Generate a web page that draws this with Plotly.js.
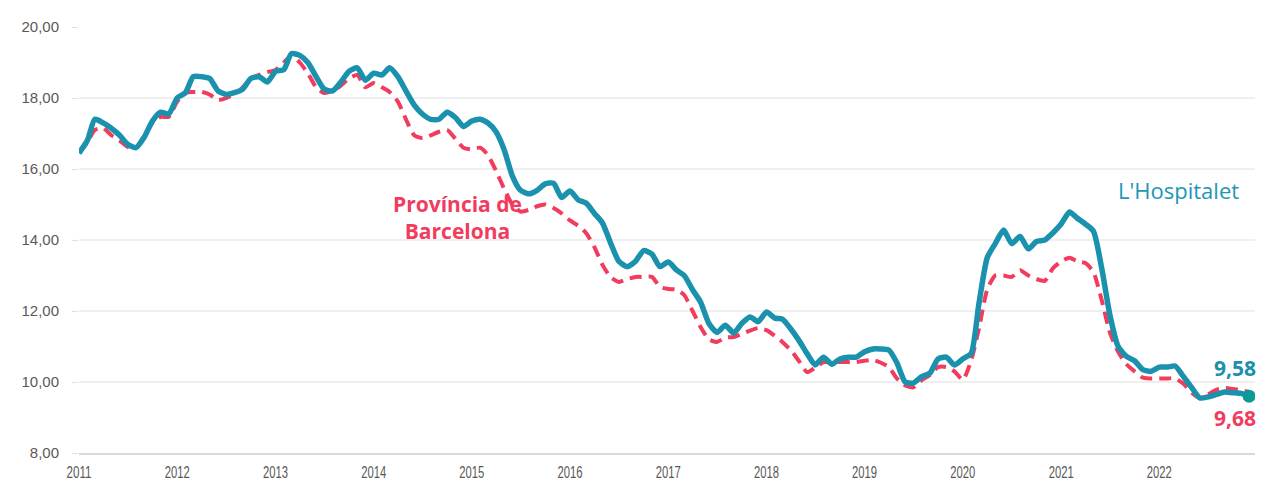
<!DOCTYPE html>
<html>
<head>
<meta charset="utf-8">
<script src="https://cdn.plot.ly/plotly-3.0.1.min.js"></script>
<style>
  html, body { margin: 0; padding: 0; background: #ffffff; }
  #chart { width: 1287px; height: 486px; }
</style>
</head>
<body>
<div id="chart"></div>
<script>
// Monthly series, Jan 2011 - Dec 2022
var startYear = 2011;
var endYear = 2022;
var yearLabels = ['2011','2012','2013','2014','2015','2016','2017','2018','2019','2020','2021','2022'];

var hospitalet = [
  16.45,16.8,17.4,17.3,17.15,16.95,16.7,16.6,16.9,17.35,17.6,17.55,
  18.0,18.15,18.6,18.6,18.55,18.2,18.1,18.15,18.25,18.55,18.6,18.45,
  18.75,18.8,19.25,19.2,19.0,18.6,18.25,18.2,18.45,18.75,18.85,18.5,
  18.7,18.65,18.85,18.6,18.2,17.8,17.55,17.4,17.4,17.6,17.45,17.2,
  17.35,17.4,17.3,17.05,16.55,15.8,15.4,15.3,15.4,15.58,15.6,15.2,
  15.38,15.13,15.04,14.75,14.48,13.9,13.4,13.25,13.4,13.7,13.6,13.25,
  13.38,13.15,13.0,12.6,12.25,11.65,11.4,11.6,11.38,11.65,11.83,11.7,
  11.97,11.8,11.77,11.5,11.18,10.8,10.48,10.7,10.5,10.65,10.7,10.7,
  10.85,10.93,10.93,10.9,10.54,10.0,9.97,10.15,10.25,10.65,10.7,10.48,
  10.65,10.8,12.2,13.5,13.9,14.28,13.9,14.1,13.75,13.96,14.0,14.2,
  14.45,14.79,14.62,14.45,14.25,13.2,11.9,11.0,10.72,10.6,10.35,10.3,
  10.42,10.42,10.45,10.15,9.85,9.55,9.58,9.65,9.72,9.7,9.68,9.6
];

var provincia = [
  16.45,16.75,17.1,17.15,16.95,16.8,16.62,16.6,16.95,17.3,17.47,17.47,
  17.9,18.15,18.17,18.17,18.1,17.94,18.0,18.1,18.3,18.55,18.65,18.73,
  18.79,19.0,19.2,19.0,18.7,18.3,18.14,18.2,18.35,18.55,18.65,18.3,
  18.42,18.3,18.17,17.9,17.4,16.95,16.87,16.95,17.05,17.1,16.85,16.6,
  16.55,16.6,16.4,15.95,15.45,15.0,14.8,14.85,14.95,15.0,14.9,14.75,
  14.55,14.4,14.2,13.8,13.3,12.95,12.82,12.9,12.96,12.96,12.96,12.68,
  12.62,12.6,12.45,12.0,11.55,11.2,11.13,11.25,11.27,11.35,11.45,11.52,
  11.46,11.3,11.13,10.9,10.6,10.28,10.4,10.56,10.56,10.56,10.56,10.56,
  10.6,10.62,10.55,10.42,10.1,9.9,9.85,10.05,10.2,10.42,10.42,10.3,
  10.06,10.6,11.5,12.6,13.0,13.0,12.96,13.15,13.0,12.9,12.85,13.2,
  13.4,13.5,13.4,13.35,13.1,12.3,11.4,10.85,10.5,10.3,10.12,10.1,
  10.1,10.1,10.1,9.95,9.7,9.55,9.65,9.78,9.83,9.8,9.77,9.72
];

var hospLabel = '9,58';
var provLabel = '9,68';

var months = [];
for (var y = startYear; y <= endYear; y++) {
  for (var m = 1; m <= 12; m++) {
    months.push(y + '-' + (m < 10 ? '0' + m : m) + '-01');
  }
}
var lastX = months[months.length - 1];
var lastH = hospitalet[hospitalet.length - 1];

var teal = '#1b92ad';
var red = '#f23c5e';

var traces = [
  {
    x: months, y: provincia, type: 'scatter', mode: 'lines',
    line: { color: red, width: 4, dash: '12px,7px', shape: 'spline', smoothing: 0.6 },
    hoverinfo: 'skip', showlegend: false
  },
  {
    x: months, y: hospitalet, type: 'scatter', mode: 'lines',
    line: { color: teal, width: 5.5, shape: 'spline', smoothing: 0.6 },
    hoverinfo: 'skip', showlegend: false
  },
  {
    x: [lastX], y: [lastH], type: 'scatter', mode: 'markers',
    marker: { color: '#0e9a94', size: 13 },
    hoverinfo: 'skip', showlegend: false
  }
];

var tickVals = yearLabels.map(function (y) { return y + '-01-01'; });

var layout = {
  width: 1287, height: 486,
  margin: { l: 79, r: 32, t: 27, b: 33 },
  paper_bgcolor: '#ffffff', plot_bgcolor: '#ffffff',
  separators: ',.',
  showlegend: false,
  xaxis: {
    type: 'date',
    range: ['2011-01-01', '2022-12-23'],
    tickvals: tickVals, ticktext: yearLabels,
    showgrid: false, zeroline: false,
    showline: true, linecolor: '#d9d9d9', linewidth: 1.5,
    ticks: '', ticklen: 0, ticklabelstandoff: 4,
    tickfont: { family: 'Liberation Sans Narrow, Arial Narrow, Liberation Sans, sans-serif', size: 16, color: '#595959' }
  },
  yaxis: {
    range: [8, 20], dtick: 2, tick0: 8,
    tickformat: '.2f',
    showgrid: true, gridcolor: '#efefef', gridwidth: 1.5,
    zeroline: false, showline: false,
    ticks: 'outside', ticklen: 6, tickcolor: '#e0e0e0',
    ticklabelstandoff: 10,
    tickfont: { family: 'Liberation Sans, Arial, sans-serif', size: 15, color: '#595959' }
  },
  annotations: [
    {
      x: '2014-11-08', y: 14.62, xref: 'x', yref: 'y',
      text: '<b>Província de<br>Barcelona</b>', showarrow: false,
      font: { family: 'Open Sans, sans-serif', size: 21, color: red },
      align: 'center', xanchor: 'center', yanchor: 'middle'
    },
    {
      x: '2022-03-15', y: 15.41, xref: 'x', yref: 'y',
      text: "L'Hospitalet", showarrow: false,
      font: { family: 'Open Sans, sans-serif', size: 22, color: '#2196b4' },
      xanchor: 'center', yanchor: 'middle'
    },
    {
      x: 0.983, y: 10.39, xref: 'paper', yref: 'y',
      text: '<b>' + hospLabel + '</b>', showarrow: false,
      font: { family: 'Open Sans, sans-serif', size: 21, color: '#1b8fab' },
      xanchor: 'center', yanchor: 'middle'
    },
    {
      x: 0.983, y: 8.99, xref: 'paper', yref: 'y',
      text: '<b>' + provLabel + '</b>', showarrow: false,
      font: { family: 'Open Sans, sans-serif', size: 21, color: red },
      xanchor: 'center', yanchor: 'middle'
    }
  ]
};

Plotly.newPlot('chart', traces, layout, { staticPlot: true, displayModeBar: false }).then(function () {
  // condense the year labels horizontally, like the narrow font of the original
  var texts = document.querySelectorAll('#chart .xtick text');
  texts.forEach(function (t) {
    t.setAttribute('textLength', '25');
    t.setAttribute('lengthAdjust', 'spacingAndGlyphs');
  });
});
</script>
</body>
</html>
